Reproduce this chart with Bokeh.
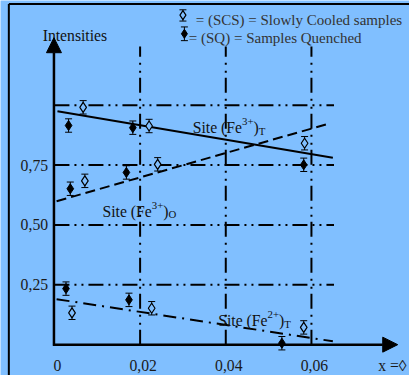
from bokeh.plotting import figure
from bokeh.models import Range1d, ColumnDataSource, Whisker, TeeHead, Arrow, NormalHead
from bokeh.core.properties import value
from bokeh.embed import file_html
from bokeh.resources import INLINE

# ---------------- data ----------------
x_ticks = [0.0, 0.02, 0.04, 0.06]
x_tick_labels = ["0", "0,02", "0,04", "0,06"]
y_ticks = [0.25, 0.50, 0.75]
y_tick_labels = ["0,25", "0,50", "0,75"]
h_grid = [0.25, 0.50, 0.75, 1.00]
v_grid = [0.02, 0.04, 0.06]

# Slowly cooled samples (open diamonds)
scs_x = [0.0067, 0.0221, 0.0241, 0.0071, 0.0584, 0.0041, 0.0227, 0.0582]
scs_y = [0.991, 0.913, 0.753, 0.684, 0.841, 0.133, 0.152, 0.072]
# Quenched samples (filled diamonds)
sq_x = [0.0033, 0.0183, 0.0168, 0.0037, 0.0582, 0.0027, 0.0174, 0.0531]
sq_y = [0.915, 0.906, 0.719, 0.651, 0.751, 0.234, 0.187, 0.006]
err = 0.028

# fitted trend lines (start, end)
fe3t_x = [0.0007, 0.0650]
fe3t_y = [0.975, 0.780]
fe3o_x = [0.0005, 0.0645]
fe3o_y = [0.599, 0.925]
fe2t_x = [0.0005, 0.0650]
fe2t_y = [0.190, 0.014]

# ---------------- geometry helpers ----------------
REF_W, REF_H = 417, 383   # reference layout size
W, H = 409, 375           # visible area
SC = W / REF_W            # overall scale
PX0, PXU = 55.0, 4367.0   # reference pixel of x=0, pixels per unit
PY0, PYU = 351.5, 244.6   # reference pixel of y=0, pixels per unit


def X(px):
    return (px - PX0) / PXU


def Y(py):
    return (PY0 - py) / PYU


def fs(px):
    return f"{px * SC:.1f}px"


BG = "#80BFFF"
FONT = value("Liberation Serif")

p = figure(width=W, height=H, output_backend="svg", toolbar_location=None,
           x_range=Range1d(X(0), X(REF_W)), y_range=Range1d(Y(REF_H), Y(0)),
           x_axis_location=None, y_axis_location=None, min_border=0)
p.grid.visible = False
p.outline_line_color = None
p.background_fill_color = BG
p.border_fill_color = BG
p.styles = {"margin-bottom": "-8px"}

# outer frame
p.segment(x0=[X(8.5), X(8.5)], y0=[Y(3.5), Y(3.5)], x1=[X(8.5), X(430)], y1=[Y(400), Y(3.5)],
          line_color="black", line_width=2)

# grid lines
x_end_grid = X(340)
p.segment(x0=[0.0] * len(h_grid), y0=h_grid, x1=[x_end_grid] * len(h_grid), y1=h_grid,
          line_color="black", line_width=2, line_dash="15 5 2 5 2 5")
y_top_grid = Y(47)
p.segment(x0=v_grid, y0=[0.0] * len(v_grid), x1=v_grid, y1=[y_top_grid] * len(v_grid),
          line_color="black", line_width=2, line_dash="15 5 2 6 2 6")

# trend lines
p.line(fe3t_x, fe3t_y, line_color="black", line_width=2)
p.line(fe3o_x, fe3o_y, line_color="black", line_width=2, line_dash="10 5")
p.line(fe2t_x, fe2t_y, line_color="black", line_width=2, line_dash="13 6 2 6")

# error bars
for xs, ys in ((scs_x, scs_y), (sq_x, sq_y)):
    src = ColumnDataSource(dict(x=xs, lo=[v - err for v in ys], hi=[v + err for v in ys]))
    p.add_layout(Whisker(source=src, base="x", lower="lo", upper="hi", dimension="height",
                         line_color="black", line_width=1,
                         lower_head=TeeHead(size=7, line_color="black", line_width=1),
                         upper_head=TeeHead(size=7, line_color="black", line_width=1)))

p.scatter(scs_x, scs_y, marker="diamond", size=10, fill_color=BG, line_color="black", line_width=1.2)
p.scatter(sq_x, sq_y, marker="diamond", size=10, fill_color="black", line_color="black", line_width=1)

# axes with arrows
p.add_layout(Arrow(x_start=X(54.5), y_start=Y(352.5), x_end=X(54.5), y_end=Y(38),
                   line_width=2.5, line_color="black",
                   end=NormalHead(size=15, fill_color="black", line_color="black")))
p.add_layout(Arrow(x_start=X(53.5), y_start=Y(351.5), x_end=X(405), y_end=Y(351.5),
                   line_width=2.5, line_color="black",
                   end=NormalHead(size=15, fill_color="black", line_color="black")))

# tick labels
p.text(x=[X(48.5)] * len(y_ticks), y=y_ticks, text=y_tick_labels, text_font=FONT,
       text_font_size=fs(16), text_color="#1a1a1a", text_align="right", text_baseline="middle")
p.text(x=x_ticks, y=[Y(373)] * len(x_ticks), text=x_tick_labels, text_font=FONT,
       text_font_size=fs(16), text_color="#1a1a1a", text_align="center",
       text_baseline="alphabetic", x_offset=3)
p.text(x=[X(414)], y=[Y(373)], text=["x =\u25ca"], text_font=FONT, text_font_size=fs(16),
       text_color="#1a1a1a", text_align="right", text_baseline="alphabetic")
p.text(x=[X(43)], y=[Y(36)], text=["Intensities"], text_font=FONT, text_font_size=fs(16),
       text_color="#111111", text_align="left", text_baseline="alphabetic")

# legend
p.text(x=[X(199), X(192)], y=[Y(19.5), Y(38)],
       text=["= (SCS) = Slowly Cooled samples", "= (SQ) = Samples Quenched"],
       text_font=FONT, text_font_size="15px", text_color="#333333",
       text_align="left", text_baseline="alphabetic")
p.segment(x0=[X(186), X(187.5)], y0=[Y(9.5), Y(27)], x1=[X(186), X(187.5)], y1=[Y(21), Y(41)],
          line_color="black", line_width=1)
p.scatter([X(186)] * 2 + [X(187.5)] * 2, [Y(9.5), Y(21), Y(27), Y(41)], marker="dash",
          size=7, line_color="black", line_width=1)
p.scatter([X(186)], [Y(15)], marker="diamond", size=9, fill_color=BG, line_color="black", line_width=1.2)
p.scatter([X(187.5)], [Y(34)], marker="diamond", size=9, fill_color="black", line_color="black")

# rich site labels
CW = {"S": 556, "i": 278, "t": 278, "e": 444, " ": 250, "(": 333, "F": 556,
      ")": 333, "3": 500, "2": 500, "+": 564, "T": 611, "O": 722}


def tw(s, size):
    return sum(CW.get(c, 500) for c in s) * size / 1000.0


def rich(px, base, parts):
    cur = px
    for txt, size, shift in parts:
        p.text(x=[X(cur)], y=[Y(base + shift)], text=[txt], text_font=FONT,
               text_font_size=fs(size), text_color="#111111",
               text_align="left", text_baseline="alphabetic")
        cur += tw(txt, size)


rich(196, 130, [("Site (Fe", 16, 0), ("3+", 11, -6), (")", 16, 0), ("T", 11, 3)])
rich(104, 215, [("Site (Fe", 16, 0), ("3+", 11, -6), (")", 16, 0), ("O", 11, 3)])
rich(222, 327, [("Site (Fe", 16, 0), ("2+", 11, -6), (")", 16, 0), ("T", 11, 3)])

open("out.html", "w").write(file_html(p, INLINE))
